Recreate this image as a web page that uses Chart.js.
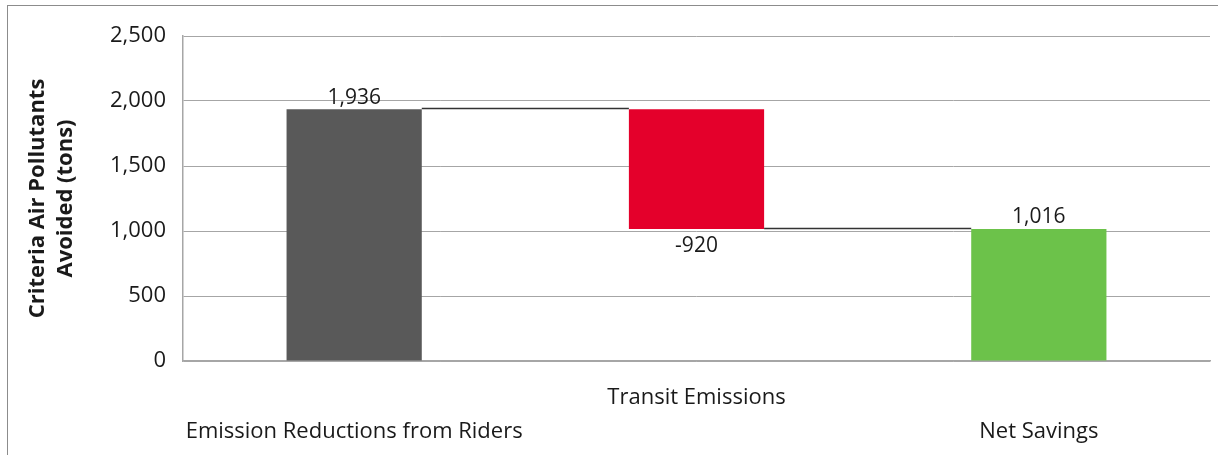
<!DOCTYPE html>
<html>
<head>
<meta charset="utf-8">
<script src="https://cdn.jsdelivr.net/npm/chart.js@4"></script>
<style>
  html, body { margin: 0; padding: 0; background: #fff; }
  #wrap { position: relative; width: 1218px; height: 455px; overflow: hidden; }
  #frame { position: absolute; left: 7px; top: 5px; width: 1230px; height: 470px; border: 1px solid #8c8c8c; }
  canvas { position: absolute; left: 0; top: 0; }
</style>
</head>
<body>
<div id="wrap">
  <div id="frame"></div>
  <canvas id="wfChart" width="1218" height="455"></canvas>
</div>
<script>
// Waterfall: rider reductions, transit emissions, net savings
const categories = [
  ['', 'Emission Reductions from Riders'],
  ['Transit Emissions', ''],
  ['', 'Net Savings']
];
const barStart = [0, 1016, 0];
const barEnd = [1936, 1936, 1016];
const barValues = ['1,936', '-920', '1,016'];
const barColors = ['#595959', '#e4002b', '#6cc24a'];
const yTicks = [0, 500, 1000, 1500, 2000, 2500];

const FONT = "'Open Sans'";

// connector lines between bars + value labels
const waterfallExtras = {
    id: 'waterfallExtras',
    afterDatasetsDraw(chart) {
        const ctx = chart.ctx;
        const y = chart.scales.y;
        const bars = chart.getDatasetMeta(0).data;
        ctx.save();
        ctx.strokeStyle = '#333333';
        ctx.lineWidth = 1.5;
        for (let i = 0; i < bars.length - 1; i++) {
            const level = (i === 0) ? barEnd[0] : barStart[1];
            const py = Math.round(y.getPixelForValue(level)) - 0.5;
            ctx.beginPath();
            ctx.moveTo(bars[i].x + bars[i].width / 2, py);
            ctx.lineTo(bars[i + 1].x - bars[i + 1].width / 2, py);
            ctx.stroke();
        }
        ctx.fillStyle = '#1a1a1a';
        ctx.font = '21px ' + FONT;
        ctx.textAlign = 'center';
        bars.forEach((b, i) => {
            if (i === 1) {
                ctx.textBaseline = 'top';
                ctx.fillText(barValues[i], b.x, y.getPixelForValue(barStart[i]) + 7);
            } else {
                ctx.textBaseline = 'bottom';
                ctx.fillText(barValues[i], b.x, y.getPixelForValue(barEnd[i]) - 1);
            }
        });
        ctx.restore();
    }
};

new Chart(document.getElementById('wfChart'), {
    type: 'bar',
    data: {
        labels: categories,
        datasets: [{
            data: barStart.map((s, i) => [s, barEnd[i]]),
            backgroundColor: barColors,
            borderWidth: 0,
            barPercentage: 0.79,
            categoryPercentage: 0.5
        }]
    },
    options: {
        responsive: false,
        animation: false,
        layout: { padding: { left: 8, right: 8, top: 36, bottom: 0 } },
        plugins: { legend: { display: false }, tooltip: { enabled: false } },
        scales: {
            x: {
                afterFit: s => { s.height = 94; },
                grid: { display: false, drawTicks: false },
                border: { color: '#a6a6a6', width: 1.5 },
                ticks: {
                    autoSkip: false, maxRotation: 0, padding: 20,
                    color: '#1a1a1a',
                    font: { family: FONT, size: 22, lineHeight: 1.55 }
                }
            },
            y: {
                min: 0, max: 2500,
                afterBuildTicks: s => { s.ticks = yTicks.map(v => ({ value: v })); },
                afterFit: s => { s.width = 175; },
                grid: { color: '#a6a6a6', lineWidth: 1, drawTicks: false },
                border: { color: '#a6a6a6', width: 1.5 },
                ticks: {
                    padding: 17,
                    color: '#1a1a1a',
                    font: { family: FONT, size: 22 },
                    callback: v => v.toLocaleString('en-US')
                },
                title: {
                    display: true,
                    text: ['Criteria Air Pollutants', 'Avoided (tons)'],
                    color: '#1a1a1a',
                    font: { family: FONT, size: 22, weight: 'bold', lineHeight: 1.27 },
                    padding: { top: 16, bottom: 0 }
                }
            }
        }
    },
    plugins: [waterfallExtras]
});
</script>
</body>
</html>
